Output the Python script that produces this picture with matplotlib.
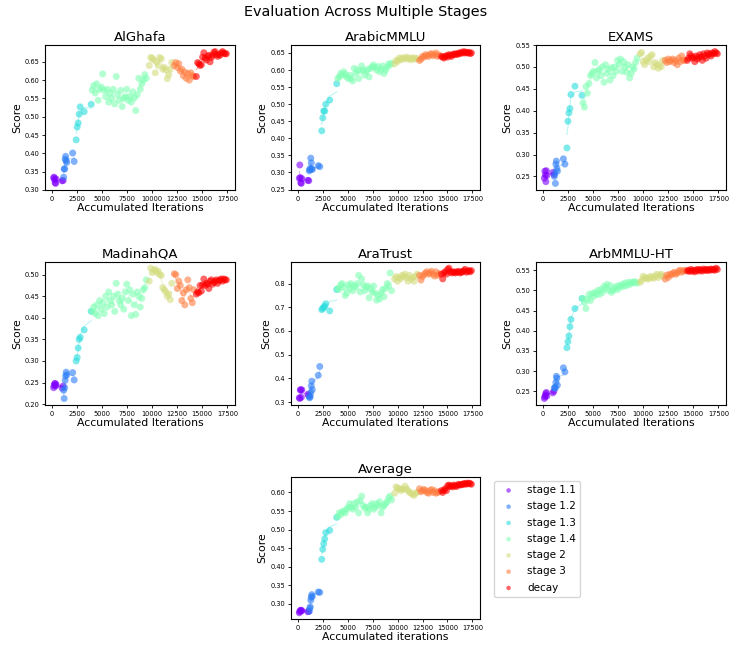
import numpy as np
import pandas as pd
import matplotlib
matplotlib.use("Agg")
import matplotlib.pyplot as plt

# Stage names and checkpoint iterations (shared by all benchmarks)
stage_names = ["stage 1.1", "stage 1.2", "stage 1.3", "stage 1.4", "stage 2", "stage 3", "decay"]

x_s11 = [150, 200, 250, 300, 350, 400, 1000, 1100]
x_s12 = [1150, 1200, 1250, 1300, 1350, 1400, 1450, 2050, 2200]
x_s13 = [2400, 2500, 2600, 2700, 2800, 3200, 3900]
x_s14 = [4000, 4150, 4300, 4450, 4600, 4750, 4900, 5050, 5200, 5350, 5500, 5650, 5800,
         5950, 6100, 6250, 6400, 6550, 6700, 6850, 7000, 7150, 7300, 7450, 7600, 7750,
         7900, 8050, 8200, 8350, 8500, 8650, 8800, 8950, 9100, 9250, 9400]
x_s2 = [9700, 9850, 10000, 10150, 10300, 10450, 10600, 10750, 10900, 11050, 11200,
        11350, 11500, 11650, 11800, 11950]
x_s3 = [12200, 12350, 12500, 12650, 12800, 12950, 13100, 13250, 13400, 13550, 13700,
        13850, 14000, 14150]
x_decay = [14400, 14525, 14650, 14775, 14900, 15025, 15150, 15275, 15400, 15525, 15650,
           15775, 15900, 16025, 16150, 16275, 16400, 16525, 16650, 16775, 16900, 17025,
           17150, 17275, 17400]
stage_iters = [x_s11, x_s12, x_s13, x_s14, x_s2, x_s3, x_decay]

# Scores per benchmark, one list per stage
alghafa = [
    [0.333, 0.335, 0.328, 0.320, 0.318, 0.330, 0.325, 0.326],
    [0.335, 0.357, 0.358, 0.384, 0.392, 0.380, 0.375, 0.401, 0.378],
    [0.437, 0.472, 0.483, 0.507, 0.527, 0.514, 0.534],
    [0.573, 0.585, 0.565, 0.59, 0.545, 0.575, 0.58, 0.617, 0.572, 0.555, 0.575, 0.54, 0.565,
     0.55, 0.575, 0.535, 0.61, 0.56, 0.545, 0.572, 0.528, 0.55, 0.555, 0.575, 0.545, 0.555,
     0.54, 0.568, 0.552, 0.517, 0.56, 0.605, 0.575, 0.59, 0.6, 0.615, 0.605],
    [0.64, 0.662, 0.66, 0.655, 0.62, 0.65, 0.64, 0.662, 0.658, 0.63, 0.635, 0.628, 0.604,
     0.615, 0.63, 0.648],
    [0.64, 0.648, 0.635, 0.645, 0.625, 0.63, 0.612, 0.622, 0.605, 0.618, 0.60, 0.62, 0.612, 0.61],
    [0.61, 0.648, 0.645, 0.64, 0.642, 0.663, 0.675, 0.66, 0.655, 0.665, 0.668, 0.65, 0.662,
     0.668, 0.676, 0.678, 0.67, 0.665, 0.67, 0.668, 0.675, 0.678, 0.674, 0.672, 0.672],
]
arabicmmlu = [
    [0.283, 0.322, 0.285, 0.270, 0.268, 0.282, 0.277, 0.276],
    [0.305, 0.308, 0.312, 0.342, 0.328, 0.31, 0.309, 0.32, 0.317],
    [0.422, 0.46, 0.48, 0.48, 0.50, 0.512, 0.56],
    [0.575, 0.58, 0.59, 0.585, 0.595, 0.588, 0.58, 0.575, 0.585, 0.575, 0.568, 0.605, 0.59,
     0.6, 0.575, 0.598, 0.612, 0.6, 0.585, 0.595, 0.602, 0.58, 0.605, 0.61, 0.615, 0.608,
     0.6, 0.61, 0.595, 0.603, 0.612, 0.59, 0.6, 0.608, 0.618, 0.615, 0.62],
    [0.618, 0.628, 0.625, 0.635, 0.63, 0.636, 0.632, 0.635, 0.638, 0.632, 0.635, 0.63,
     0.636, 0.632, 0.635, 0.633],
    [0.628, 0.632, 0.64, 0.638, 0.645, 0.642, 0.64, 0.646, 0.648, 0.642, 0.645, 0.65, 0.64, 0.644],
    [0.64, 0.638, 0.635, 0.64, 0.642, 0.638, 0.645, 0.643, 0.64, 0.645, 0.647, 0.645, 0.648,
     0.646, 0.65, 0.648, 0.652, 0.65, 0.654, 0.65, 0.652, 0.65, 0.652, 0.648, 0.65],
]
exams = [
    [0.246, 0.262, 0.253, 0.238, 0.263, 0.252, 0.259, 0.254],
    [0.25, 0.257, 0.234, 0.278, 0.285, 0.268, 0.262, 0.29, 0.278],
    [0.315, 0.376, 0.395, 0.405, 0.437, 0.456, 0.435],
    [0.418, 0.408, 0.455, 0.44, 0.462, 0.48, 0.485, 0.49, 0.51, 0.475, 0.49, 0.495, 0.48,
     0.5, 0.465, 0.505, 0.485, 0.495, 0.47, 0.498, 0.48, 0.5, 0.49, 0.515, 0.505, 0.518,
     0.49, 0.512, 0.5, 0.488, 0.505, 0.475, 0.485, 0.5, 0.495, 0.51, 0.52],
    [0.53, 0.533, 0.512, 0.505, 0.515, 0.52, 0.512, 0.525, 0.528, 0.5, 0.51, 0.505, 0.497,
     0.505, 0.5, 0.515],
    [0.515, 0.51, 0.518, 0.512, 0.515, 0.518, 0.51, 0.515, 0.505, 0.52, 0.512, 0.525, 0.515, 0.515],
    [0.515, 0.52, 0.53, 0.525, 0.52, 0.522, 0.512, 0.525, 0.518, 0.522, 0.528, 0.523, 0.515,
     0.53, 0.525, 0.52, 0.532, 0.528, 0.53, 0.525, 0.532, 0.53, 0.535, 0.532, 0.53],
]
madinahqa = [
    [0.238, 0.243, 0.247, 0.248, 0.242, 0.245, 0.237, 0.242],
    [0.232, 0.213, 0.238, 0.255, 0.265, 0.274, 0.268, 0.273, 0.256],
    [0.30, 0.308, 0.33, 0.35, 0.355, 0.372, 0.415],
    [0.415, 0.425, 0.41, 0.43, 0.405, 0.44, 0.42, 0.435, 0.41, 0.45, 0.425, 0.46, 0.44,
     0.43, 0.45, 0.415, 0.48, 0.455, 0.44, 0.43, 0.445, 0.42, 0.46, 0.478, 0.44, 0.465,
     0.405, 0.455, 0.43, 0.408, 0.46, 0.45, 0.425, 0.445, 0.465, 0.47, 0.488],
    [0.485, 0.515, 0.505, 0.51, 0.512, 0.505, 0.508, 0.5, 0.498, 0.47, 0.465, 0.46, 0.45,
     0.455, 0.442, 0.48],
    [0.502, 0.50, 0.468, 0.485, 0.475, 0.44, 0.458, 0.43, 0.465, 0.488, 0.47, 0.445, 0.435, 0.465],
    [0.455, 0.46, 0.458, 0.475, 0.462, 0.476, 0.49, 0.475, 0.48, 0.478, 0.468, 0.485, 0.488,
     0.478, 0.482, 0.485, 0.488, 0.48, 0.486, 0.488, 0.49, 0.485, 0.49, 0.488, 0.488],
]
aratrust = [
    [0.318, 0.315, 0.352, 0.35, 0.32, 0.352, 0.333, 0.328],
    [0.322, 0.318, 0.325, 0.34, 0.368, 0.388, 0.352, 0.413, 0.45],
    [0.69, 0.695, 0.70, 0.705, 0.715, 0.685, 0.775],
    [0.78, 0.775, 0.795, 0.80, 0.785, 0.75, 0.76, 0.795, 0.78, 0.80, 0.77, 0.79, 0.785,
     0.80, 0.835, 0.765, 0.82, 0.795, 0.77, 0.785, 0.79, 0.74, 0.78, 0.765, 0.79, 0.76,
     0.73, 0.75, 0.735, 0.76, 0.775, 0.745, 0.78, 0.80, 0.79, 0.845, 0.77],
    [0.82, 0.83, 0.81, 0.825, 0.82, 0.835, 0.83, 0.84, 0.825, 0.81, 0.835, 0.82, 0.825,
     0.81, 0.83, 0.84],
    [0.835, 0.815, 0.83, 0.838, 0.845, 0.85, 0.84, 0.845, 0.852, 0.84, 0.832, 0.85, 0.835, 0.842],
    [0.84, 0.82, 0.845, 0.85, 0.84, 0.86, 0.865, 0.85, 0.845, 0.85, 0.848, 0.845, 0.85,
     0.848, 0.852, 0.845, 0.848, 0.85, 0.855, 0.86, 0.848, 0.852, 0.855, 0.85, 0.855],
]
arbmmlu_ht = [
    [0.232, 0.236, 0.24, 0.244, 0.247, 0.238, 0.246, 0.25],
    [0.258, 0.26, 0.258, 0.272, 0.287, 0.282, 0.265, 0.308, 0.298],
    [0.358, 0.373, 0.387, 0.41, 0.428, 0.455, 0.48],
    [0.48, 0.47, 0.455, 0.478, 0.49, 0.475, 0.492, 0.485, 0.495, 0.49, 0.50, 0.49, 0.502,
     0.495, 0.51, 0.505, 0.515, 0.50, 0.512, 0.495, 0.50, 0.505, 0.51, 0.502, 0.512, 0.508,
     0.515, 0.51, 0.518, 0.512, 0.52, 0.515, 0.52, 0.518, 0.522, 0.52, 0.518],
    [0.52, 0.525, 0.535, 0.53, 0.532, 0.528, 0.53, 0.535, 0.532, 0.53, 0.535, 0.54, 0.532,
     0.538, 0.54, 0.535],
    [0.528, 0.538, 0.532, 0.54, 0.538, 0.542, 0.545, 0.54, 0.543, 0.548, 0.55, 0.545, 0.548, 0.55],
    [0.548, 0.55, 0.547, 0.552, 0.548, 0.55, 0.546, 0.55, 0.552, 0.548, 0.552, 0.55, 0.548,
     0.553, 0.55, 0.552, 0.549, 0.552, 0.55, 0.553, 0.551, 0.552, 0.55, 0.555, 0.552],
]
average = [
    [0.276, 0.279, 0.282, 0.283, 0.281, 0.282, 0.279, 0.28],
    [0.28, 0.288, 0.292, 0.31, 0.318, 0.325, 0.32, 0.332, 0.331],
    [0.42, 0.447, 0.462, 0.475, 0.492, 0.498, 0.533],
    [0.535, 0.545, 0.54, 0.548, 0.55, 0.545, 0.555, 0.56, 0.57, 0.56, 0.555, 0.57, 0.56,
     0.575, 0.545, 0.578, 0.59, 0.565, 0.558, 0.56, 0.545, 0.555, 0.565, 0.57, 0.555, 0.56,
     0.57, 0.565, 0.575, 0.545, 0.56, 0.565, 0.57, 0.575, 0.585, 0.59, 0.58],
    [0.598, 0.615, 0.612, 0.61, 0.605, 0.61, 0.608, 0.617, 0.61, 0.605, 0.60, 0.598, 0.595,
     0.592, 0.598, 0.60],
    [0.61, 0.602, 0.605, 0.608, 0.605, 0.6, 0.598, 0.605, 0.608, 0.6, 0.605, 0.598, 0.6, 0.602],
    [0.605, 0.6, 0.606, 0.61, 0.605, 0.618, 0.62, 0.616, 0.618, 0.615, 0.62, 0.618, 0.616,
     0.62, 0.622, 0.62, 0.621, 0.622, 0.624, 0.622, 0.625, 0.623, 0.625, 0.624, 0.622],
]

colors = plt.cm.rainbow(np.linspace(0, 1, len(stage_names)))

W, H = 731, 651
fig = plt.figure(figsize=(W / 100, H / 100), dpi=100)


def add_ax(l, t, r, b):
    return fig.add_axes([l / W, 1 - b / H, (r - l) / W, (b - t) / H])


panels = [
    ("AlGhafa", alghafa, (45, 45, 235, 190), "Accumulated Iterations"),
    ("ArabicMMLU", arabicmmlu, (290.7, 45, 480, 190), "Accumulated Iterations"),
    ("EXAMS", exams, (535.7, 45, 726, 190), "Accumulated Iterations"),
    ("MadinahQA", madinahqa, (45, 261.7, 235, 405), "Accumulated Iterations"),
    ("AraTrust", aratrust, (290.7, 261.7, 480, 405), "Accumulated Iterations"),
    ("ArbMMLU-HT", arbmmlu_ht, (535.7, 261.7, 726, 405), "Accumulated Iterations"),
    ("Average", average, (290.7, 476.7, 480, 619.3), "Accumulated iterations"),
]

for title, scores, box, xlabel in panels:
    ax = add_ax(*box)
    for i, name in enumerate(stage_names):
        xs = stage_iters[i]
        ys = scores[i]
        trend = pd.Series(ys).rolling(3, center=True, min_periods=1).mean()
        ax.plot(xs, trend, color=colors[i], lw=0.7, alpha=0.35)
        ax.scatter(xs, ys, color=colors[i], s=25, alpha=0.6, edgecolors="none", label=name)
    ax.set_title(title, fontsize=9.5, pad=3)
    ax.set_xlabel(xlabel, fontsize=7.8, labelpad=1)
    ax.set_ylabel("Score", fontsize=7.8, labelpad=2)
    ax.tick_params(labelsize=4.8, length=2.5, width=0.6, pad=1.5)
    for sp in ax.spines.values():
        sp.set_linewidth(0.8)
    if title == "Average":
        handles, labels = ax.get_legend_handles_labels()

fig.legend(handles, labels, loc="upper left", bbox_to_anchor=(494 / W, 1 - 481 / H),
           fontsize=7.5, markerscale=0.65, frameon=True, borderaxespad=0,
           handletextpad=0.8, labelspacing=0.6)

fig.suptitle("Evaluation Across Multiple Stages", fontsize=10.4, y=1 - 5 / H, va="top")

fig.savefig("out.png", dpi=100)
